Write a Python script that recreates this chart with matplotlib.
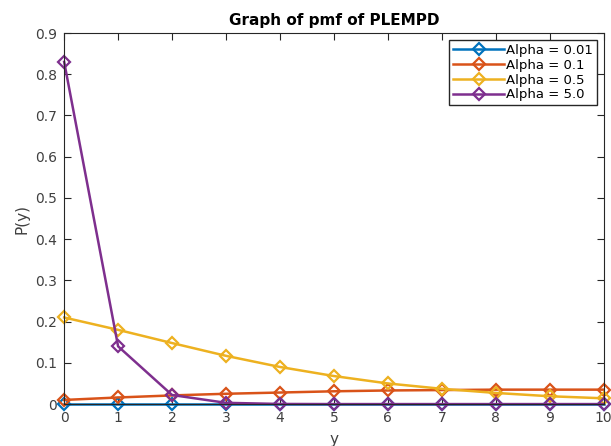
import matplotlib.pyplot as plt
import numpy as np

y = np.arange(0, 11)
labels = ['Alpha = 0.01', 'Alpha = 0.1', 'Alpha = 0.5', 'Alpha = 5.0']
p_001 = [0.0002, 0.0002, 0.0002, 0.0002, 0.0002, 0.0002, 0.0002, 0.0002, 0.0002, 0.0002, 0.0002]
p_01 = [0.010, 0.016, 0.021, 0.025, 0.028, 0.031, 0.033, 0.034, 0.035, 0.035, 0.035]
p_05 = [0.210, 0.180, 0.148, 0.117, 0.090, 0.068, 0.050, 0.037, 0.027, 0.019, 0.014]
p_50 = [0.830, 0.140, 0.022, 0.003, 0.0003, 0.0, 0.0, 0.0, 0.0, 0.0, 0.0]
colors = ['#0072BD', '#D95319', '#EDB120', '#7E2F8E']

fig = plt.figure(figsize=(6.11, 4.46), dpi=100)
ax = fig.add_axes([0.105, 0.094, 0.883, 0.832])
for vals, lab, c in zip([p_001, p_01, p_05, p_50], labels, colors):
    ax.plot(y, vals, '-D', color=c, lw=1.8, ms=6.5, mfc='none', mew=1.6, label=lab, clip_on=False)

ax.set_xlim(0, 10)
ax.set_ylim(0, 0.9)
ax.set_xticks(range(0, 11))
ax.set_yticks(np.arange(0, 0.91, 0.1))
ax.set_yticklabels(['0'] + ['%.1f' % v for v in np.arange(0.1, 0.91, 0.1)])
ax.tick_params(direction='in', top=True, right=True, labelsize=10, colors='#262626',
               labelcolor='#404040', length=5, pad=5)
for s in ax.spines.values():
    s.set_color('#262626')
ax.set_xlabel('y', fontsize=11, color='#404040', labelpad=5)
ax.set_ylabel('P(y)', fontsize=11, color='#404040')
ax.set_title('Graph of pmf of PLEMPD', fontsize=11, fontweight='bold')
ax.legend(loc='upper right', fontsize=9.5, fancybox=False, edgecolor='#262626',
          borderpad=0.3, labelspacing=0.15, handlelength=3.9, handletextpad=0.15,
          borderaxespad=0.5, framealpha=1)

fig.savefig('out.png', dpi=100)
